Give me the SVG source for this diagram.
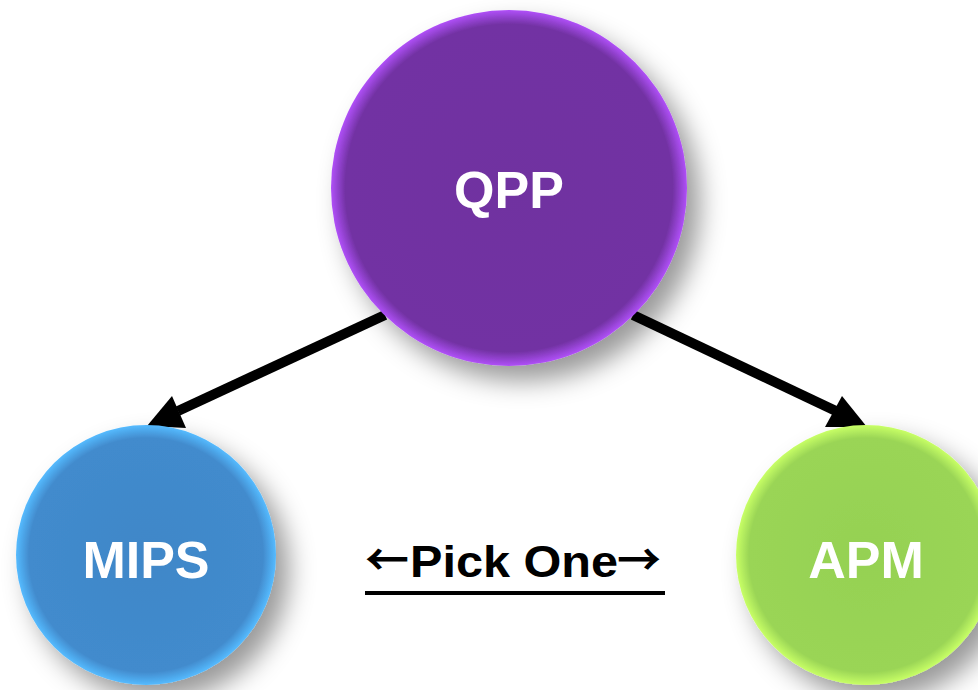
<svg xmlns="http://www.w3.org/2000/svg" width="978" height="690" viewBox="0 0 978 690">
<defs>
  <filter id="shadow" x="-30%" y="-30%" width="180%" height="180%">
    <feDropShadow dx="13" dy="15" stdDeviation="13" flood-color="#000" flood-opacity="0.4"/>
  </filter>
  <radialGradient id="gPurple" cx="50%" cy="50%" r="50%">
    <stop offset="0%" stop-color="#7030A0"/>
    <stop offset="92%" stop-color="#7232A3"/>
    <stop offset="100%" stop-color="#B050F8"/>
  </radialGradient>
  <radialGradient id="gBlue" cx="50%" cy="50%" r="50%">
    <stop offset="0%" stop-color="#3F87C8"/>
    <stop offset="90%" stop-color="#428BCD"/>
    <stop offset="100%" stop-color="#55BBFF"/>
  </radialGradient>
  <radialGradient id="gGreen" cx="50%" cy="50%" r="50%">
    <stop offset="0%" stop-color="#95D152"/>
    <stop offset="90%" stop-color="#9AD556"/>
    <stop offset="100%" stop-color="#C8FF66"/>
  </radialGradient>
  <style>
    .lbl{font-family:"Liberation Sans",Arial,sans-serif;font-weight:bold;fill:#fff;text-anchor:middle;font-size:52px}
    .conn{stroke:#000;stroke-width:10;fill:none}
    .head{fill:#000}
    .arr{font-family:"Noto Sans CJK JP",sans-serif;font-weight:bold;font-size:44px}
  </style>
</defs>
<rect width="978" height="690" fill="#fff"/>
<g id="connectors">
  <line class="conn" x1="385" y1="315" x2="178" y2="411"/>
  <path class="head" d="M147,426 L172,396 L186,428 Z"/>
  <line class="conn" x1="633" y1="315" x2="838" y2="412"/>
  <path class="head" d="M867,427 L842,396 L825,427 Z"/>
</g>
<g id="qpp">
  <circle cx="509" cy="188" r="178" fill="url(#gPurple)" filter="url(#shadow)"/>
  <text class="lbl" x="509" y="208">QPP</text>
</g>
<g id="mips">
  <circle cx="146" cy="555" r="130" fill="url(#gBlue)" filter="url(#shadow)"/>
  <text class="lbl" x="146" y="578">MIPS</text>
</g>
<g id="apm">
  <circle cx="866" cy="555" r="130" fill="url(#gGreen)" filter="url(#shadow)"/>
  <text class="lbl" x="866" y="578">APM</text>
</g>
<g id="pick">
  <text y="577" font-family="'Liberation Sans',Arial,'Noto Sans CJK JP',sans-serif" font-weight="bold" font-size="45" fill="#000"><tspan class="arr" x="365" dy="-1">←</tspan><tspan x="410" dy="1" textLength="208" lengthAdjust="spacingAndGlyphs">Pick One</tspan><tspan class="arr" x="617" dy="-1">→</tspan></text>
  <rect x="365" y="591" width="300" height="4" fill="#000"/>
</g>
</svg>
